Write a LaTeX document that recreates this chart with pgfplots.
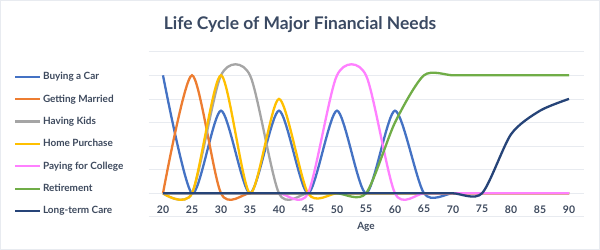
\documentclass[border=0pt]{standalone}
\usepackage{pgfplots}
\pgfplotsset{compat=1.18}
\usepackage{fontspec}
\setmainfont{Lato}
\definecolor{cCar}{HTML}{4472C4}
\definecolor{cMar}{HTML}{ED7D31}
\definecolor{cKid}{HTML}{A5A5A5}
\definecolor{cHome}{HTML}{FFC000}
\definecolor{cCol}{HTML}{FF80FF}
\definecolor{cRet}{HTML}{70AD47}
\definecolor{cLtc}{HTML}{264478}
\definecolor{txt}{HTML}{3E4A5E}
\definecolor{ttl}{HTML}{3B4A63}
\definecolor{grd}{HTML}{E8EBF0}
\pgfplotstableread{
age car mar kid home col ret ltc
20 5   0 0 0 0 0   0
25 0   5 0 0 0 0   0
30 3.5 0 5 5 0 0   0
35 0   0 5 0 0 0   0
40 3.5 0 0 4 0 0   0
45 0   0 0 0 0 0   0
50 3.5 0 0 0 5 0   0
55 0   0 0 0 5 0   0
60 3.5 0 0 0 0 3   0
65 0   0 0 0 0 5   0
70 0   0 0 0 0 5   0
75 0   0 0 0 0 5   0
80 0   0 0 0 0 5   2.5
85 0   0 0 0 0 5   3.5
90 0   0 0 0 0 5   4
}\data
\begin{document}
\begin{tikzpicture}
\useasboundingbox (0,0) rectangle (600bp,250bp);
\fill[white] (0,0) rectangle (600bp,250bp);
\draw[grd, line width=1bp] (0.5bp,0.5bp) rectangle (599.5bp,249.5bp);
\node[text=ttl, font=\fontsize{17.5}{21}\selectfont\bfseries] at (300bp,225bp) {Life Cycle of Major Financial Needs};
\begin{axis}[
  at={(148.5bp,33.1bp)}, anchor=south west,
  scale only axis, width=435bp, height=165.2bp,
  xmin=17.5, xmax=92.5, ymin=-1, ymax=6,
  xtick={20,25,...,90}, ytick={-1,0,...,6},
  yticklabels={},
  /pgf/number format/assume math mode=true,
  ymajorgrids, grid style={grd, line width=0.8bp},
  axis line style={draw=none},
  major tick length=0pt,
  xticklabel style={text=txt, font=\fontsize{10.5}{13}\selectfont\bfseries, yshift=15bp},
  xlabel={Age},
  xlabel style={text=txt, font=\fontsize{10}{12}\selectfont\bfseries, at={(axis description cs:0.5,0)}, anchor=north, yshift=-2bp},
  every axis plot/.append style={line width=2.3bp, smooth, tension=0.45},
  legend cell align=left,
  legend image code/.code={\draw[#1, line width=2.3bp] (0bp,0bp) -- (25bp,0bp);},
  legend style={draw=none, fill=none, at={(axis description cs:-0.316,0.898)}, anchor=north west,
    font=\fontsize{10}{12}\selectfont\bfseries, text=txt, row sep=10.5bp, nodes={inner sep=1.5bp}},
]
\addplot[cCar] table[x=age,y=car]{\data};
\addlegendentry{Buying a Car}
\addplot[cMar] table[x=age,y=mar]{\data};
\addlegendentry{Getting Married}
\addplot[cKid] table[x=age,y=kid]{\data};
\addlegendentry{Having Kids}
\addplot[cHome] table[x=age,y=home]{\data};
\addlegendentry{Home Purchase}
\addplot[cCol] table[x=age,y=col]{\data};
\addlegendentry{Paying for College}
\addplot[cRet] table[x=age,y=ret]{\data};
\addlegendentry{Retirement}
\addplot[cLtc] table[x=age,y=ltc]{\data};
\addlegendentry{Long-term Care}
\end{axis}
\end{tikzpicture}
\end{document}
